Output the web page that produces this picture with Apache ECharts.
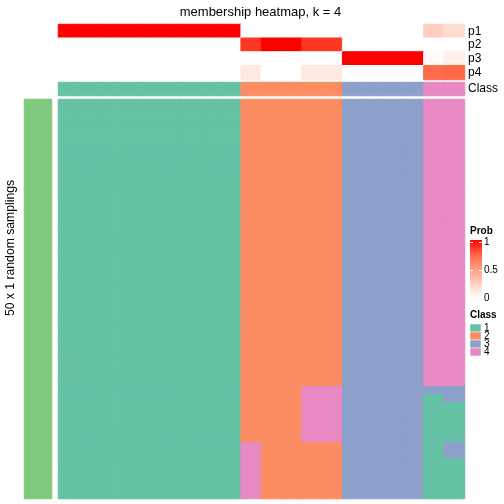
<!DOCTYPE html>
<html><head><meta charset="utf-8">
<script src="https://cdn.jsdelivr.net/npm/echarts@6/dist/echarts.min.js"></script>
<style>html,body{margin:0;padding:0;background:#fff}#c{width:504px;height:504px}</style>
</head><body><div id="c"></div>
<script>
// ---- data ----
const columns = ['c1','c2','c3','c4','c5','c6','c7','c8','c9','c10','c11','c12','c13','c14','c15','c16','c17','c18','c19','c20'];
const probRows = ['p1','p2','p3','p4'];
const p1 = [1,1,1,1,1,1,1,1,1,0,0,0,0,0,0,0,0,0,0.25,0.18];
const p2 = [0,0,0,0,0,0,0,0,0,0.87,1,1,0.87,0.87,0,0,0,0,0,0];
const p3 = [0,0,0,0,0,0,0,0,0,0,0,0,0,0,1,1,1,1,0.02,0.08];
const p4 = [0,0,0,0,0,0,0,0,0,0.12,0,0,0.12,0.12,0,0,0,0,0.73,0.74];
const classAnno = [1,1,1,1,1,1,1,1,1,2,2,2,2,2,3,3,3,3,4,4];
// main heatmap: 50 row bins (20 rows each) per column, class per bin
const mainCols = [
  "1111111111 1111111111 1111111111 1111111111 1111111111",
  "1111111111 1111111111 1111111111 1111111111 1111111111",
  "1111111111 1111111111 1111111111 1111111111 1111111111",
  "1111111111 1111111111 1111111111 1111111111 1111111111",
  "1111111111 1111111111 1111111111 1111111111 1111111111",
  "1111111111 1111111111 1111111111 1111111111 1111111111",
  "1111111111 1111111111 1111111111 1111111111 1111111111",
  "1111111111 1111111111 1111111111 1111111111 1111111111",
  "1111111111 1111111111 1111111111 1111111111 1111111111",
  "2222222222 2222222222 2222222222 2222222222 2224444444",
  "2222222222 2222222222 2222222222 2222222222 2222222222",
  "2222222222 2222222222 2222222222 2222222222 2222222222",
  "2222222222 2222222222 2222222222 2222224444 4442222222",
  "2222222222 2222222222 2222222222 2222224444 4442222222",
  "3333333333 3333333333 3333333333 3333333333 3333333333",
  "3333333333 3333333333 3333333333 3333333333 3333333333",
  "3333333333 3333333333 3333333333 3333333333 3333333333",
  "3333333333 3333333333 3333333333 3333333333 3333333333",
  "4444444444 4444444444 4444444444 4444443111 1111111111",
  "4444444444 4444444444 4444444444 4444443311 1113311111"
];
const classLabels = ['1','2','3','4'];
const probTicks = ['1','0.5','0'];

// ---- styles ----
const classColors = ['#66C2A5','#FC8D62','#8DA0CB','#E78AC3'];
const probColors = ['#FFFFFF','#FFCFBF','#FF9E81','#FF6746','#FF0000'];
const barColor = '#7FC97F';
const FONT = '"Liberation Sans", Arial, Helvetica, sans-serif';

function cell(x, y, v, color) {
  return {value: [x, y, v], itemStyle: {color: color, borderColor: color, borderWidth: 1}};
}
const probData = [];
[p1,p2,p3,p4].forEach((arr, r) => arr.forEach((v, c) => {
  probData.push(cell(c, r, v, echarts.color.lerp(v, probColors)));
}));
const annoData = classAnno.map((v, c) => cell(c, 0, v, classColors[v - 1]));
const mainRows = [];
for (let i = 0; i < 50; i++) mainRows.push('r' + (i + 1));
const mainData = [];
mainCols.forEach((s, c) => {
  const t = s.replace(/ /g, '');
  for (let r = 0; r < t.length; r++) mainData.push(cell(c, r, +t[r], classColors[+t[r] - 1]));
});

const chart = echarts.init(document.getElementById('c'), null, {renderer: 'canvas'});
const hiddenX = (gi) => ({type:'category', gridIndex: gi, data: columns, show: false});
const rightLabel = {interval: 0, margin: 3.5, fontSize: 12, color: '#000', fontFamily: FONT};

chart.setOption({
  animation: false,
  textStyle: {fontFamily: FONT},
  grid: [
    {left: 58.5, top: 24.5, width: 406, height: 55},
    {left: 58.5, top: 82.5, width: 406, height: 13},
    {left: 58.5, top: 99.5, width: 406, height: 399},
    {left: 24.5, top: 99.5, width: 27, height: 399}
  ],
  xAxis: [hiddenX(0), hiddenX(1), hiddenX(2), {type:'category', gridIndex: 3, data: ['a'], show: false}],
  yAxis: [
    {type:'category', gridIndex: 0, data: probRows, inverse: true, position: 'right',
      axisLine:{show:false}, axisTick:{show:false}, axisLabel: rightLabel},
    {type:'category', gridIndex: 1, data: ['Class'], position: 'right',
      axisLine:{show:false}, axisTick:{show:false}, axisLabel: rightLabel},
    {type:'category', gridIndex: 2, data: mainRows, inverse: true, show: false},
    {type:'category', gridIndex: 3, data: ['a'], show: false}
  ],
  series: [
    {type:'heatmap', xAxisIndex: 0, yAxisIndex: 0, data: probData, emphasis:{disabled:true}},
    {type:'heatmap', xAxisIndex: 1, yAxisIndex: 1, data: annoData, emphasis:{disabled:true}},
    {type:'heatmap', xAxisIndex: 2, yAxisIndex: 2, data: mainData, emphasis:{disabled:true}},
    {type:'heatmap', xAxisIndex: 3, yAxisIndex: 3, data: [cell(0, 0, 1, barColor)], emphasis:{disabled:true}}
  ],
  graphic: [
    {type:'text', x: 260.5, y: 12,
      style:{text:'membership heatmap, k = 4', fontSize: 13, fill:'#000', fontFamily: FONT, align:'center', verticalAlign:'middle'}},
    {type:'text', x: 11, y: 248, rotation: Math.PI/2,
      style:{text:'50 x 1 random samplings', fontSize: 12.2, fill:'#000', fontFamily: FONT, align:'center', verticalAlign:'middle'}},
    {type:'text', x: 38, y: 295, rotation: Math.PI/2,
      style:{text:'top 1000 rows', fontSize: 10, fill:'#000', fontFamily: FONT, align:'center', verticalAlign:'middle'}},
    // Prob legend
    {type:'text', x: 470, y: 231, style:{text:'Prob', fontSize: 10, fontWeight:'bold', fill:'#000', fontFamily: FONT, align:'left', verticalAlign:'middle'}},
    {type:'rect', shape:{x: 470, y: 240, width: 12, height: 58},
      style:{fill:{type:'linear', x:0, y:0, x2:0, y2:1, colorStops:[
        {offset:0, color: probColors[4]}, {offset:0.25, color: probColors[3]},
        {offset:0.5, color: probColors[2]}, {offset:0.75, color: probColors[1]}, {offset:1, color: probColors[0]}]}}},
    {type:'line', shape:{x1:470, y1:242.5, x2:473, y2:242.5}, style:{stroke:'#fff', lineWidth:1}},
    {type:'line', shape:{x1:479, y1:242.5, x2:482, y2:242.5}, style:{stroke:'#fff', lineWidth:1}},
    {type:'line', shape:{x1:470, y1:270.5, x2:473, y2:270.5}, style:{stroke:'#fff', lineWidth:1}},
    {type:'line', shape:{x1:479, y1:270.5, x2:482, y2:270.5}, style:{stroke:'#fff', lineWidth:1}},
    {type:'text', x: 484, y: 242, style:{text: probTicks[0], fontSize: 10, fill:'#000', fontFamily: FONT, verticalAlign:'middle'}},
    {type:'text', x: 484, y: 270, style:{text: probTicks[1], fontSize: 10, fill:'#000', fontFamily: FONT, verticalAlign:'middle'}},
    {type:'text', x: 484, y: 298, style:{text: probTicks[2], fontSize: 10, fill:'#000', fontFamily: FONT, verticalAlign:'middle'}},
    // Class legend
    {type:'text', x: 470, y: 315, style:{text:'Class', fontSize: 10, fontWeight:'bold', fill:'#000', fontFamily: FONT, verticalAlign:'middle'}}
  ].concat(classLabels.flatMap((lab, i) => [
    {type:'rect', shape:{x: 470, y: 324 + i * 8, width: 11, height: 8}, style:{fill: classColors[i], stroke:'#fff', lineWidth: 0.5}},
    {type:'text', x: 484, y: 328 + i * 8, style:{text: lab, fontSize: 10, fill:'#000', fontFamily: FONT, verticalAlign:'middle'}}
  ]))
});
</script></body></html>
